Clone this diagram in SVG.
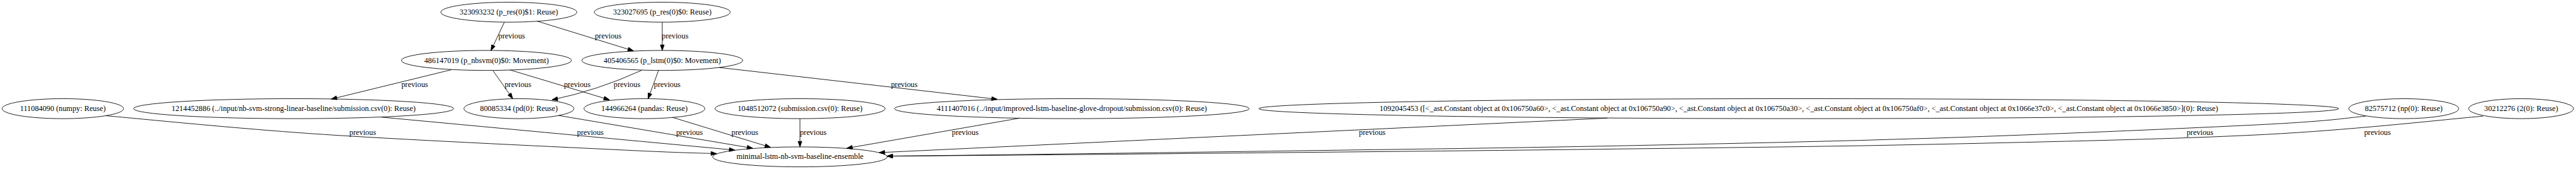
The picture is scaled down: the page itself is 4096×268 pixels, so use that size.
<svg xmlns="http://www.w3.org/2000/svg" width="4096" height="268" viewBox="0 0 4096 268">
<style>
.n ellipse{fill:none;stroke:#000;stroke-width:1.33}
text{font-family:'Liberation Serif','Times New Roman',serif;font-size:18.67px;text-anchor:middle;fill:#000}
.e path{fill:none;stroke:#000;stroke-width:1.33;marker-end:url(#ah)}
</style>
<defs>
<marker id="ah" markerUnits="userSpaceOnUse" markerWidth="14" markerHeight="10" refX="13.33" refY="4.67" orient="auto" overflow="visible">
<path d="M0,0 L13.33,4.67 L0,9.33 z" fill="#000" stroke="#000" stroke-width="1.33"/>
</marker>
</defs>
<rect width="4096" height="268" fill="#fff"/>
<g transform="scale(0.6594)">
<g id="edges" class="e">
<g id="e1"><path d="M1216.2,53.3 L1183.9,121.7"/><text x="1234" y="92.9">previous</text></g>
<g id="e2"><path d="M1294.8,50.7 L1527.5,122.3"/><text x="1466.7" y="92.9">previous</text></g>
<g id="e3"><path d="M1597,53.3 L1597,121.3"/><text x="1628" y="92.9">previous</text></g>
<g id="e4"><path d="M1088.4,167.7 L798.9,238.3"/><text x="1000" y="208.9">previous</text></g>
<g id="e5"><path d="M1188.9,170 L1236.3,237.2"/><text x="1249" y="208.9">previous</text></g>
<g id="e6"><path d="M1230.2,168.3 L1469.5,240"/><text x="1392" y="208.9">previous</text></g>
<g id="e7"><path d="M1547.5,169 Q1440.6,217.5 1331.3,240"/><text x="1512" y="208.9">previous</text></g>
<g id="e8"><path d="M1587.7,170 L1562.8,237.5"/><text x="1609" y="208.9">previous</text></g>
<g id="e9"><path d="M1734,162.3 L2404.7,238.7"/><text x="2180.5" y="208.9">previous</text></g>
<g id="e10"><path d="M254.7,278.3 C342.3,285.8 572.4,309.6 780,323.3 C987.6,337 1342,353 1500,360.7 C1658,368.4 1690,368 1728,369.5"/><text x="874.7" y="324.9">previous</text></g>
<g id="e11"><path d="M919.3,281.7 L1772,361"/><text x="1423.6" y="324.9">previous</text></g>
<g id="e12"><path d="M1347,277.7 L1815,356.5"/><text x="1662.6" y="324.9">previous</text></g>
<g id="e13"><path d="M1621.7,282.3 L1858,354.3"/><text x="1796" y="324.9">previous</text></g>
<g id="e14"><path d="M1929,285.3 L1929,353.3"/><text x="1961" y="324.9">previous</text></g>
<g id="e15"><path d="M2459.4,284 L2042,356.5"/><text x="2327.5" y="324.9">previous</text></g>
<g id="e16"><path d="M3876,284 L2120,367"/><text x="3309" y="324.9">previous</text></g>
<g id="e17"><path d="M5704.6,279.3 C5663.8,282.6 5630.8,290.6 5460,299.3 C5289.2,308 4940,323.1 4680,331.7 C4420,340.3 4160,345.5 3900,350.7 C3640,355.9 3413.3,358.5 3120,362.7 C2826.7,366.9 2303.3,373.8 2139,375.5"/><text x="5305" y="324.9">previous</text></g>
<g id="e18"><path d="M5987.6,279.3 C5899.7,286.7 5677.9,312.3 5460,323.5 C5242.1,334.7 4940,340.9 4680,346.7 C4420,352.5 4160,355 3900,358.3 C3640,361.6 3413.3,363.8 3120,366.7 C2826.7,369.7 2303.3,374.5 2139,375.5"/><text x="5733" y="324.9">previous</text></g>
</g>
<g id="nA" class="n"><ellipse cx="1227" cy="29.3" rx="164" ry="24"/><text x="1227" y="34.9">323093232 (p_res(0)$1: Reuse)</text></g>
<g id="nB" class="n"><ellipse cx="1597" cy="29.3" rx="164" ry="24"/><text x="1597" y="34.9">323027695 (p_res(0)$0: Reuse)</text></g>
<g id="nC" class="n"><ellipse cx="1173" cy="145.3" rx="205" ry="24"/><text x="1173" y="150.9">486147019 (p_nbsvm(0)$0: Movement)</text></g>
<g id="nD" class="n"><ellipse cx="1597" cy="145.3" rx="194" ry="24"/><text x="1597" y="150.9">405406565 (p_lstm(0)$0: Movement)</text></g>
<g id="nE" class="n"><ellipse cx="151.5" cy="261.3" rx="146.5" ry="24"/><text x="151.5" y="266.9">111084090 (numpy: Reuse)</text></g>
<g id="nF" class="n"><ellipse cx="708" cy="261.3" rx="386" ry="24"/><text x="708" y="266.9">1214452886 (../input/nb-svm-strong-linear-baseline/submission.csv(0): Reuse)</text></g>
<g id="nG" class="n"><ellipse cx="1251.3" cy="261.3" rx="132.6" ry="24"/><text x="1251.3" y="266.9">80085334 (pd(0): Reuse)</text></g>
<g id="nH" class="n"><ellipse cx="1554" cy="261.3" rx="145.8" ry="24"/><text x="1554" y="266.9">144966264 (pandas: Reuse)</text></g>
<g id="nI" class="n"><ellipse cx="1929.3" cy="261.3" rx="205.2" ry="24"/><text x="1929.3" y="266.9">1048512072 (submission.csv(0): Reuse)</text></g>
<g id="nJ" class="n"><ellipse cx="2584.7" cy="261.3" rx="427.8" ry="24"/><text x="2584.7" y="266.9">4111407016 (../input/improved-lstm-baseline-glove-dropout/submission.csv(0): Reuse)</text></g>
<g id="nK" class="n"><ellipse cx="4337.6" cy="261.3" rx="1302" ry="24"/><text x="4337.6" y="266.9">1092045453 ([&lt;_ast.Constant object at 0x106750a60&gt;, &lt;_ast.Constant object at 0x106750a90&gt;, &lt;_ast.Constant object at 0x106750a30&gt;, &lt;_ast.Constant object at 0x106750af0&gt;, &lt;_ast.Constant object at 0x1066e37c0&gt;, &lt;_ast.Constant object at 0x1066e3850&gt;](0): Reuse)</text></g>
<g id="nL" class="n"><ellipse cx="5796.4" cy="261.3" rx="132.6" ry="24"/><text x="5796.4" y="266.9">82575712 (np(0): Reuse)</text></g>
<g id="nM" class="n"><ellipse cx="6079.4" cy="261.3" rx="126.4" ry="24"/><text x="6079.4" y="266.9">30212276 (2(0): Reuse)</text></g>
<g id="nN" class="n"><ellipse cx="1929" cy="377.3" rx="210.5" ry="24"/><text x="1929" y="382.9">minimal-lstm-nb-svm-baseline-ensemble</text></g>
</g>
</svg>
